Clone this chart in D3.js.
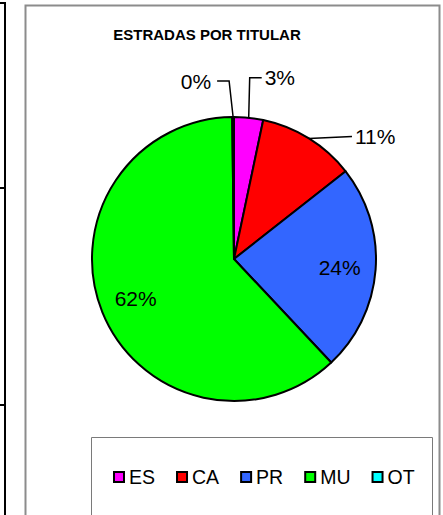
<!DOCTYPE html>
<html><head><meta charset="utf-8">
<script src="https://cdn.jsdelivr.net/npm/d3@7"></script>
<style>html,body{margin:0;padding:0;background:#fff;}svg{display:block;font-family:"Liberation Sans",Arial,sans-serif;}</style>
</head><body>
<script>
const title = "ESTRADAS POR TITULAR";
const categories = ["ES", "CA", "PR", "MU", "OT"];
const values = [3.3, 11.1, 23.6, 61.8, 0.2];
const colors = ["#FF00FF", "#FF0000", "#3366FF", "#00FF00", "#00FFFF"];
// label placement: "in" = inside; otherwise leader elbow offset (dx,dy) from the slice edge and arm direction
const labelModes = ["out", "out", "in", "in", "out"];
const leaderElbow = [[1, -40], [43, -2], null, null, [-4, -36]];
const leaderArm = [12, 0, null, null, -12];

const W = 443, H = 515;
const cx = 234, cy = 259, R = 142;

const svg = d3.select("body").append("svg").attr("width", W).attr("height", H);

// outer decorations
svg.append("line").attr("x1", 5).attr("x2", 5).attr("y1", 2).attr("y2", H).attr("stroke", "#000").attr("stroke-width", 2);
[3, 188, 405].forEach(y => svg.append("line").attr("x1", 0).attr("x2", 6).attr("y1", y).attr("y2", y).attr("stroke", "#000").attr("stroke-width", 2));
svg.append("path").attr("d", `M25.5,${H} V5.5 H439.5 V${H}`).attr("fill", "none").attr("stroke", "#8c8c8c").attr("stroke-width", 2);

svg.append("text").attr("x", 207).attr("y", 40).attr("text-anchor", "middle")
  .attr("font-weight", "bold").attr("font-size", 15).text(title);

const total = d3.sum(values);
const data = categories.map((c, i) => ({ cat: c, value: values[i], color: colors[i], i }));
const pie = d3.pie().sort(null).value(d => d.value).startAngle(0).endAngle(2 * Math.PI);
const arcs = pie(data);
const arc = d3.arc().innerRadius(0).outerRadius(R);
const labelArc = d3.arc().innerRadius(106 * 2 - R).outerRadius(R); // centroid at radius 106

const g = svg.append("g").attr("transform", `translate(${cx},${cy})`);
g.selectAll("path.slice").data(arcs).enter().append("path")
  .attr("class", "slice").attr("d", arc)
  .attr("fill", d => d.data.color).attr("stroke", "#000").attr("stroke-width", 2).attr("stroke-linejoin", "round");

const pct = d => Math.round(d.data.value / total * 100) + "%";

arcs.forEach(d => {
  const i = d.data.i;
  if (labelModes[i] === "in") {
    const [x, y] = labelArc.centroid(d);
    g.append("text").attr("x", x).attr("y", y).attr("dy", "0.36em")
      .attr("text-anchor", "middle").attr("font-size", 21).text(pct(d));
  } else {
    const a = (d.startAngle + d.endAngle) / 2;
    const ex = R * Math.sin(a), ey = -R * Math.cos(a);
    const [ox, oy] = leaderElbow[i];
    const bx = ex + ox, by = ey + oy;
    const arm = leaderArm[i];
    g.append("path").attr("d", `M${ex},${ey} L${bx},${by} l${arm},0`)
      .attr("fill", "none").attr("stroke", "#000").attr("stroke-width", 1.5);
    const left = arm < 0 || (arm === 0 && ox < 0);
    const tx = bx + arm + (left ? -6 : 3);
    g.append("text").attr("x", tx).attr("y", by).attr("dy", "0.36em")
      .attr("text-anchor", left ? "end" : "start").attr("font-size", 21).text(pct(d));
  }
});

// legend
svg.append("path").attr("d", `M91.5,${H} V437.5 H432.5 V${H}`).attr("fill", "none").attr("stroke", "#7a7a7a").attr("stroke-width", 1);
let lx = 113;
const ly = 477;
data.forEach(d => {
  svg.append("rect").attr("x", lx + 1).attr("y", ly - 5).attr("width", 10).attr("height", 10)
    .attr("fill", d.color).attr("stroke", "#000").attr("stroke-width", 2);
  const t = svg.append("text").attr("x", lx + 16).attr("y", ly).attr("dy", "0.36em")
    .attr("font-size", 19.5).text(d.cat);
  lx += 16 + t.node().getComputedTextLength() + 21;
});
</script>
</body></html>
